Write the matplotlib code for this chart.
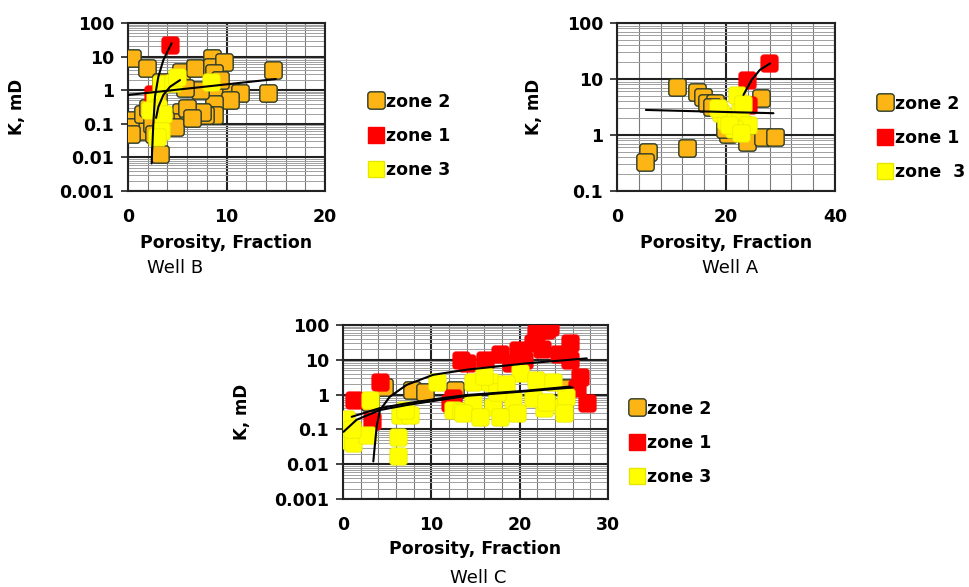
import numpy as np
import matplotlib
matplotlib.use("Agg")
import matplotlib.pyplot as plt
from matplotlib.path import Path
from matplotlib.lines import Line2D
from matplotlib.ticker import FixedLocator, LogLocator, NullFormatter, FuncFormatter

plt.rcParams['font.family'] = ['DejaVu Sans']

# ---------------- data : Well B ----------------
b_z2_x = [0.4, 1.9, 3.4, 5.4, 6.8, 8.5, 8.5, 9.7, 8.7, 14.75, 14.2, 8.8, 10.5, 11.4, 10.4, 8.7,
          8.7, 7.8, 7.3, 7.5, 5.4, 4.4, 3.75, 0.4, 1.05, 0.2, 3.25, 1.5, 2.4, 2.0, 3.0, 2.6, 6.0,
          4.8, 0.3, 5.8, 9.3, 6.5]
b_z2_y = [9, 4.5, 1.8, 3.5, 4.5, 9, 5, 7, 3.2, 4, 0.8, 0.9, 0.9, 0.8, 0.5, 0.4,
          0.18, 0.18, 1.0, 0.23, 0.23, 0.11, 0.13, 0.13, 0.06, 0.08, 0.013, 0.2, 0.1, 0.3, 0.5, 0.05, 0.3,
          0.08, 0.05, 1.2, 2.0, 0.15]
b_z1_x = [4.3, 2.5]
b_z1_y = [22, 0.75]
b_z3_x = [3.4, 4.6, 5.0, 2.7, 3.0, 3.6, 3.4, 2.9, 2.2, 8.4]
b_z3_y = [1.5, 1.6, 2.5, 0.5, 0.3, 0.2, 0.06, 0.04, 0.25, 1.8]
b_tr1_x = [2.4, 2.57, 2.74, 3.08, 3.59, 4.0, 4.43]
b_tr1_y = [0.0066, 0.1, 0.65, 2.5, 7.9, 14, 25]
b_tr2_x = [2.85, 3.08, 3.59, 4.26, 5.28]
b_tr2_y = [0.15, 0.32, 0.72, 1.26, 2.0]
b_tr3_x = [0.0, 15.0]
b_tr3_y = [0.72, 2.15]

# ---------------- data : Well A ----------------
a_z2_x = [10.95, 14.6, 15.8, 16.5, 18.0, 17.5, 12.8, 5.75, 5.1, 20.4, 23.8, 26.8, 29.0, 26.5,
          19.8, 22.0]
a_z2_y = [7.3, 5.9, 4.8, 3.7, 3.7, 3.2, 0.58, 0.5, 0.33, 1.05, 0.76, 0.93, 0.93, 4.5,
          1.3, 1.6]
a_z1_x = [23.8, 27.8, 24.0]
a_z1_y = [9.6, 19, 3.4]
a_z3_x = [22.0, 23.1, 19.0, 21.0, 20.0, 22.5, 24.0, 21.5, 18.5, 23.2, 20.5, 22.8]
a_z3_y = [5.2, 1.6, 2.5, 2.0, 1.8, 2.6, 1.5, 1.3, 3.0, 3.6, 1.5, 1.1]
a_tr1_x = [5.3, 28.7]
a_tr1_y = [2.8, 2.45]
a_tr2_x = [23.2, 24.7, 26.2, 28.1]
a_tr2_y = [5.2, 9.6, 14.5, 19]

# ---------------- data : Well C ----------------
c_z2_x = [7.8, 9.3, 12.7, 4.6, 25.5, 3.0]
c_z2_y = [1.35, 1.2, 1.35, 1.6, 1.5, 0.6]
c_z1_x = [4.2, 1.2, 3.25, 13.4, 16.1, 14.0, 17.8, 19.8, 21.5, 21.9, 23.4, 25.7, 25.7, 26.8,
          27.6, 12.1, 22.5, 24.5, 20.5, 19.0, 26.5, 12.5, 23.0]
c_z1_y = [2.3, 0.7, 0.17, 10, 10, 8, 15, 19, 30, 58, 90, 30, 10, 3.3,
          0.56, 0.56, 20, 15, 10, 8, 1.5, 0.8, 70]
c_z3_x = [3.06, 0.42, 1.17, 2.68, 0.1, 6.26, 6.26, 6.45, 7.6, 10.6, 12.5, 13.4,
          14.75, 16.6, 20.0, 21.9, 23.8, 14.75, 17.0, 19.3, 19.7, 22.7, 24.9, 13.6, 15.5,
          17.8, 21.5, 17.4, 25.3, 16.0, 18.5, 23.0, 25.0, 0.3, 1.0, 7.0]
c_z3_y = [0.7, 0.05, 0.04, 0.07, 0.12, 0.06, 0.017, 0.26, 0.26, 2.3, 0.36, 0.33,
          2.3, 2.3, 4.1, 2.6, 2.3, 0.56, 0.45, 0.7, 0.29, 0.4, 0.45, 0.29, 0.23,
          0.23, 0.8, 1.2, 0.87, 3.5, 2.0, 0.6, 0.3, 0.2, 0.1, 0.35]
c_tr1_x = [3.43, 3.81, 4.19, 5.3, 7.2, 10.2, 14.0, 20.8, 27.6]
c_tr1_y = [0.012, 0.12, 0.36, 0.87, 1.9, 3.7, 5.2, 7.9, 11]
c_tr2_x = [0.98, 4.19, 7.2, 11.0, 14.2, 20.8, 25.7]
c_tr2_y = [0.23, 0.41, 0.56, 0.78, 0.98, 1.3, 1.7]
c_tr3_x = [0.05, 1.55, 4.19, 7.2, 14.2, 20.8, 26.0]
c_tr3_y = [0.085, 0.19, 0.36, 0.5, 0.93, 1.25, 1.6]

labels = ['zone 2', 'zone 1', 'zone 3']

# ---------------- style ----------------
COL_Z2 = '#FDB515'
EDGE_Z2 = '#2b3a2a'
COL_Z1 = '#FF0000'
COL_Z3 = '#FFFF00'
EDGE_Z3 = '#E6E600'

TICK_FS = 12.5
LAB_FS = 12.5
YLAB_FS = 12
LEG_FS = 12.5
TITLE_FS = 13


def rounded_square(r=0.35):
    k = 1.0
    verts = [(-k + r, -k), (k - r, -k), (k, -k), (k, -k + r), (k, k - r), (k, k),
             (k - r, k), (-k + r, k), (-k, k), (-k, k - r), (-k, -k + r), (-k, -k), (-k + r, -k)]
    codes = [Path.MOVETO, Path.LINETO, Path.CURVE3, Path.CURVE3, Path.LINETO, Path.CURVE3,
             Path.CURVE3, Path.LINETO, Path.CURVE3, Path.CURVE3, Path.LINETO, Path.CURVE3, Path.CURVE3]
    return Path(verts, codes)


MARK = rounded_square()
MS = 12.5

fig = plt.figure(figsize=(9.69, 5.87), dpi=100)
W, H = 969, 587


def make_axes(l, r, t, b):
    return fig.add_axes([l / W, 1 - b / H, (r - l) / W, (b - t) / H])


def style_axes(ax, xmax, xmajor, xminor, ymin):
    ax.set_yscale('log')
    ax.set_xlim(0, xmax)
    ax.set_ylim(ymin, 100)
    ax.xaxis.set_major_locator(FixedLocator(np.arange(0, xmax + 0.01, xmajor)))
    ax.xaxis.set_minor_locator(FixedLocator(np.arange(0, xmax + 0.01, xminor)))
    ax.yaxis.set_major_locator(LogLocator(base=10, numticks=30))
    ax.yaxis.set_minor_locator(LogLocator(base=10, subs=np.arange(2, 10), numticks=300))
    ax.yaxis.set_minor_formatter(NullFormatter())
    ax.yaxis.set_major_formatter(FuncFormatter(lambda v, p: '%g' % v))
    ax.grid(True, which='minor', axis='x', color='#7a7a7a', lw=0.8)
    ax.grid(True, which='minor', axis='y', color='#a0a0a0', lw=0.7)
    ax.grid(True, which='major', color='#222222', lw=1.5)
    ax.set_axisbelow(True)
    for s in ax.spines.values():
        s.set_color('#222222')
        s.set_linewidth(1.5)
    ax.tick_params(axis='x', which='both', length=0, pad=12, labelsize=TICK_FS)
    ax.tick_params(axis='y', which='major', length=5, width=1.2, color='#222222', pad=5, labelsize=TICK_FS)
    ax.tick_params(axis='y', which='minor', length=0)
    ax.set_xlabel('Porosity, Fraction', fontsize=LAB_FS, fontweight='bold')
    ax.set_ylabel('K, mD', fontsize=YLAB_FS, fontweight='bold')


def draw(ax, z2, z1, z3, trends):
    ax.plot(z2[0], z2[1], ls='none', marker=MARK, ms=MS, mfc=COL_Z2, mec=EDGE_Z2, mew=1.0, zorder=3)
    ax.plot(z1[0], z1[1], ls='none', marker=MARK, ms=MS, mfc=COL_Z1, mec=COL_Z1, mew=0.5, zorder=3)
    ax.plot(z3[0], z3[1], ls='none', marker=MARK, ms=MS, mfc=COL_Z3, mec=EDGE_Z3, mew=0.5, zorder=3)
    for tx, ty in trends:
        ax.plot(tx, ty, color='black', lw=1.5, zorder=4, solid_capstyle='round')


def legend(ax, x, y, lab3='zone 3'):
    h = [Line2D([], [], ls='none', marker=MARK, ms=MS, mfc=COL_Z2, mec=EDGE_Z2, mew=1.0),
         Line2D([], [], ls='none', marker='s', ms=MS - 1.5, mfc=COL_Z1, mec=COL_Z1),
         Line2D([], [], ls='none', marker='s', ms=MS - 1.5, mfc=COL_Z3, mec=EDGE_Z3)]
    lg = ax.legend(h, [labels[0], labels[1], lab3], loc='center left', bbox_to_anchor=(x / W, 1 - y / H),
                   bbox_transform=fig.transFigure, frameon=False, labelspacing=0.95,
                   handlelength=0.8, handletextpad=0.2, borderpad=0, borderaxespad=0,
                   prop={'weight': 'bold', 'size': LEG_FS})
    return lg


def bold_ticks(ax):
    for lab in ax.get_xticklabels() + ax.get_yticklabels():
        lab.set_fontweight('bold')


# Well B
axB = make_axes(128, 325, 23, 191)
style_axes(axB, 20, 10, 2, 0.001)
draw(axB, (b_z2_x, b_z2_y), (b_z1_x, b_z1_y), (b_z3_x, b_z3_y),
     [(b_tr1_x, b_tr1_y), (b_tr2_x, b_tr2_y), (b_tr3_x, b_tr3_y)])
axB.yaxis.set_label_coords((26 - 128) / 197, 0.5)
axB.xaxis.set_label_coords(0.5, (191 - 234) / 168)
legend(axB, 369, 136)
fig.text(175 / W, 1 - 268 / H, 'Well B', ha='center', va='center', fontsize=TITLE_FS)

# Well A
axA = make_axes(617, 835, 23, 191)
style_axes(axA, 40, 20, 4, 0.1)
draw(axA, (a_z2_x, a_z2_y), (a_z1_x, a_z1_y), (a_z3_x, a_z3_y),
     [(a_tr1_x, a_tr1_y), (a_tr2_x, a_tr2_y)])
axA.yaxis.set_label_coords((543 - 617) / 218, 0.5)
axA.xaxis.set_label_coords(0.5, (191 - 234) / 168)
legend(axA, 878, 138, lab3='zone  3')
fig.text(730 / W, 1 - 268 / H, 'Well A', ha='center', va='center', fontsize=TITLE_FS)

# Well C
axC = make_axes(343, 608, 325, 499)
style_axes(axC, 30, 10, 2, 0.001)
draw(axC, (c_z2_x, c_z2_y), (c_z1_x, c_z1_y), (c_z3_x, c_z3_y),
     [(c_tr1_x, c_tr1_y), (c_tr2_x, c_tr2_y), (c_tr3_x, c_tr3_y)])
axC.yaxis.set_label_coords((251 - 343) / 265, 0.5)
axC.xaxis.set_label_coords(0.5, (499 - 540) / 174)
legend(axC, 630, 443)
fig.text(478 / W, 1 - 578 / H, 'Well C', ha='center', va='center', fontsize=TITLE_FS)

for ax in (axB, axA, axC):
    bold_ticks(ax)

fig.savefig('out.png', dpi=100)
